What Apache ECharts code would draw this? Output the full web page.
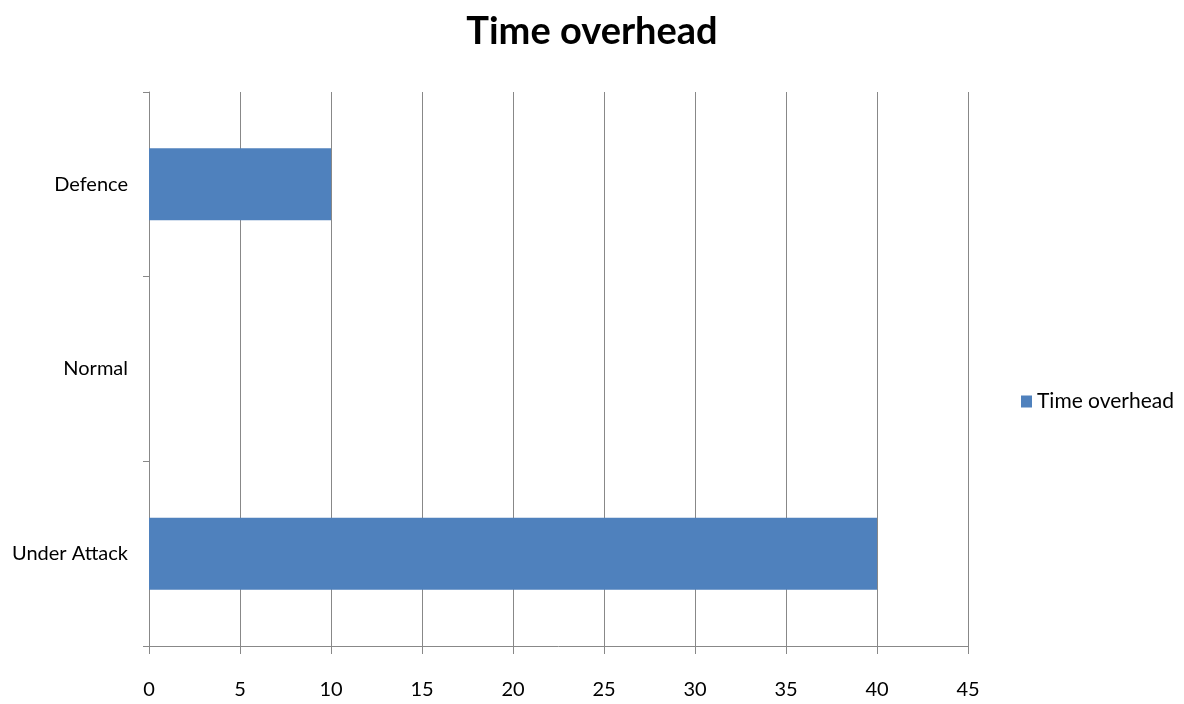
<!DOCTYPE html>
<html><head><meta charset="utf-8">
<script src="https://cdn.jsdelivr.net/npm/echarts@6/dist/echarts.min.js"></script>
<style>html,body{margin:0;padding:0;background:#fff}#c{width:1184px;height:704px}</style>
</head><body><div id="c"></div>
<script>
const categories = ['Under Attack', 'Normal', 'Defence'];
const seriesName = 'Time overhead';
const values = [40, 0, 10];
const xTicks = { min: 0, max: 45, interval: 5 };

const chart = echarts.init(document.getElementById('c'));
const font = 'Lato, "Open Sans", sans-serif';
chart.setOption({
  animation: false,
  backgroundColor: '#fff',
  title: {
    text: 'Time overhead', left: 'center', top: 8,
    textStyle: { fontFamily: font, fontSize: 38, fontWeight: 'bold', color: '#000' }
  },
  legend: {
    data: [seriesName], left: 1016, top: 386, orient: 'vertical',
    itemWidth: 11, itemHeight: 12, icon: 'rect', itemGap: 6,
    textStyle: { fontFamily: font, fontSize: 21, color: '#000' }
  },
  grid: { left: 149, right: 216, top: 92, bottom: 58, containLabel: false },
  xAxis: {
    type: 'value', min: xTicks.min, max: xTicks.max, interval: xTicks.interval,
    axisLine: { show: true, lineStyle: { color: '#888', width: 1 } },
    axisTick: { show: true, length: 8, lineStyle: { color: '#888' } },
    splitLine: { show: true, lineStyle: { color: '#888', width: 1 } },
    axisLabel: { margin: 34, fontFamily: font, fontSize: 20, color: '#000' }
  },
  yAxis: {
    type: 'category', data: categories,
    axisLine: { show: true, lineStyle: { color: '#888', width: 1 } },
    axisTick: { show: true, length: 6, lineStyle: { color: '#888' } },
    axisLabel: { margin: 21, fontFamily: font, fontSize: 20, color: '#000' }
  },
  series: [{
    name: seriesName, type: 'bar', data: values, barCategoryGap: '61%',
    itemStyle: { color: '#4F81BD' }
  }]
});
</script></body></html>
